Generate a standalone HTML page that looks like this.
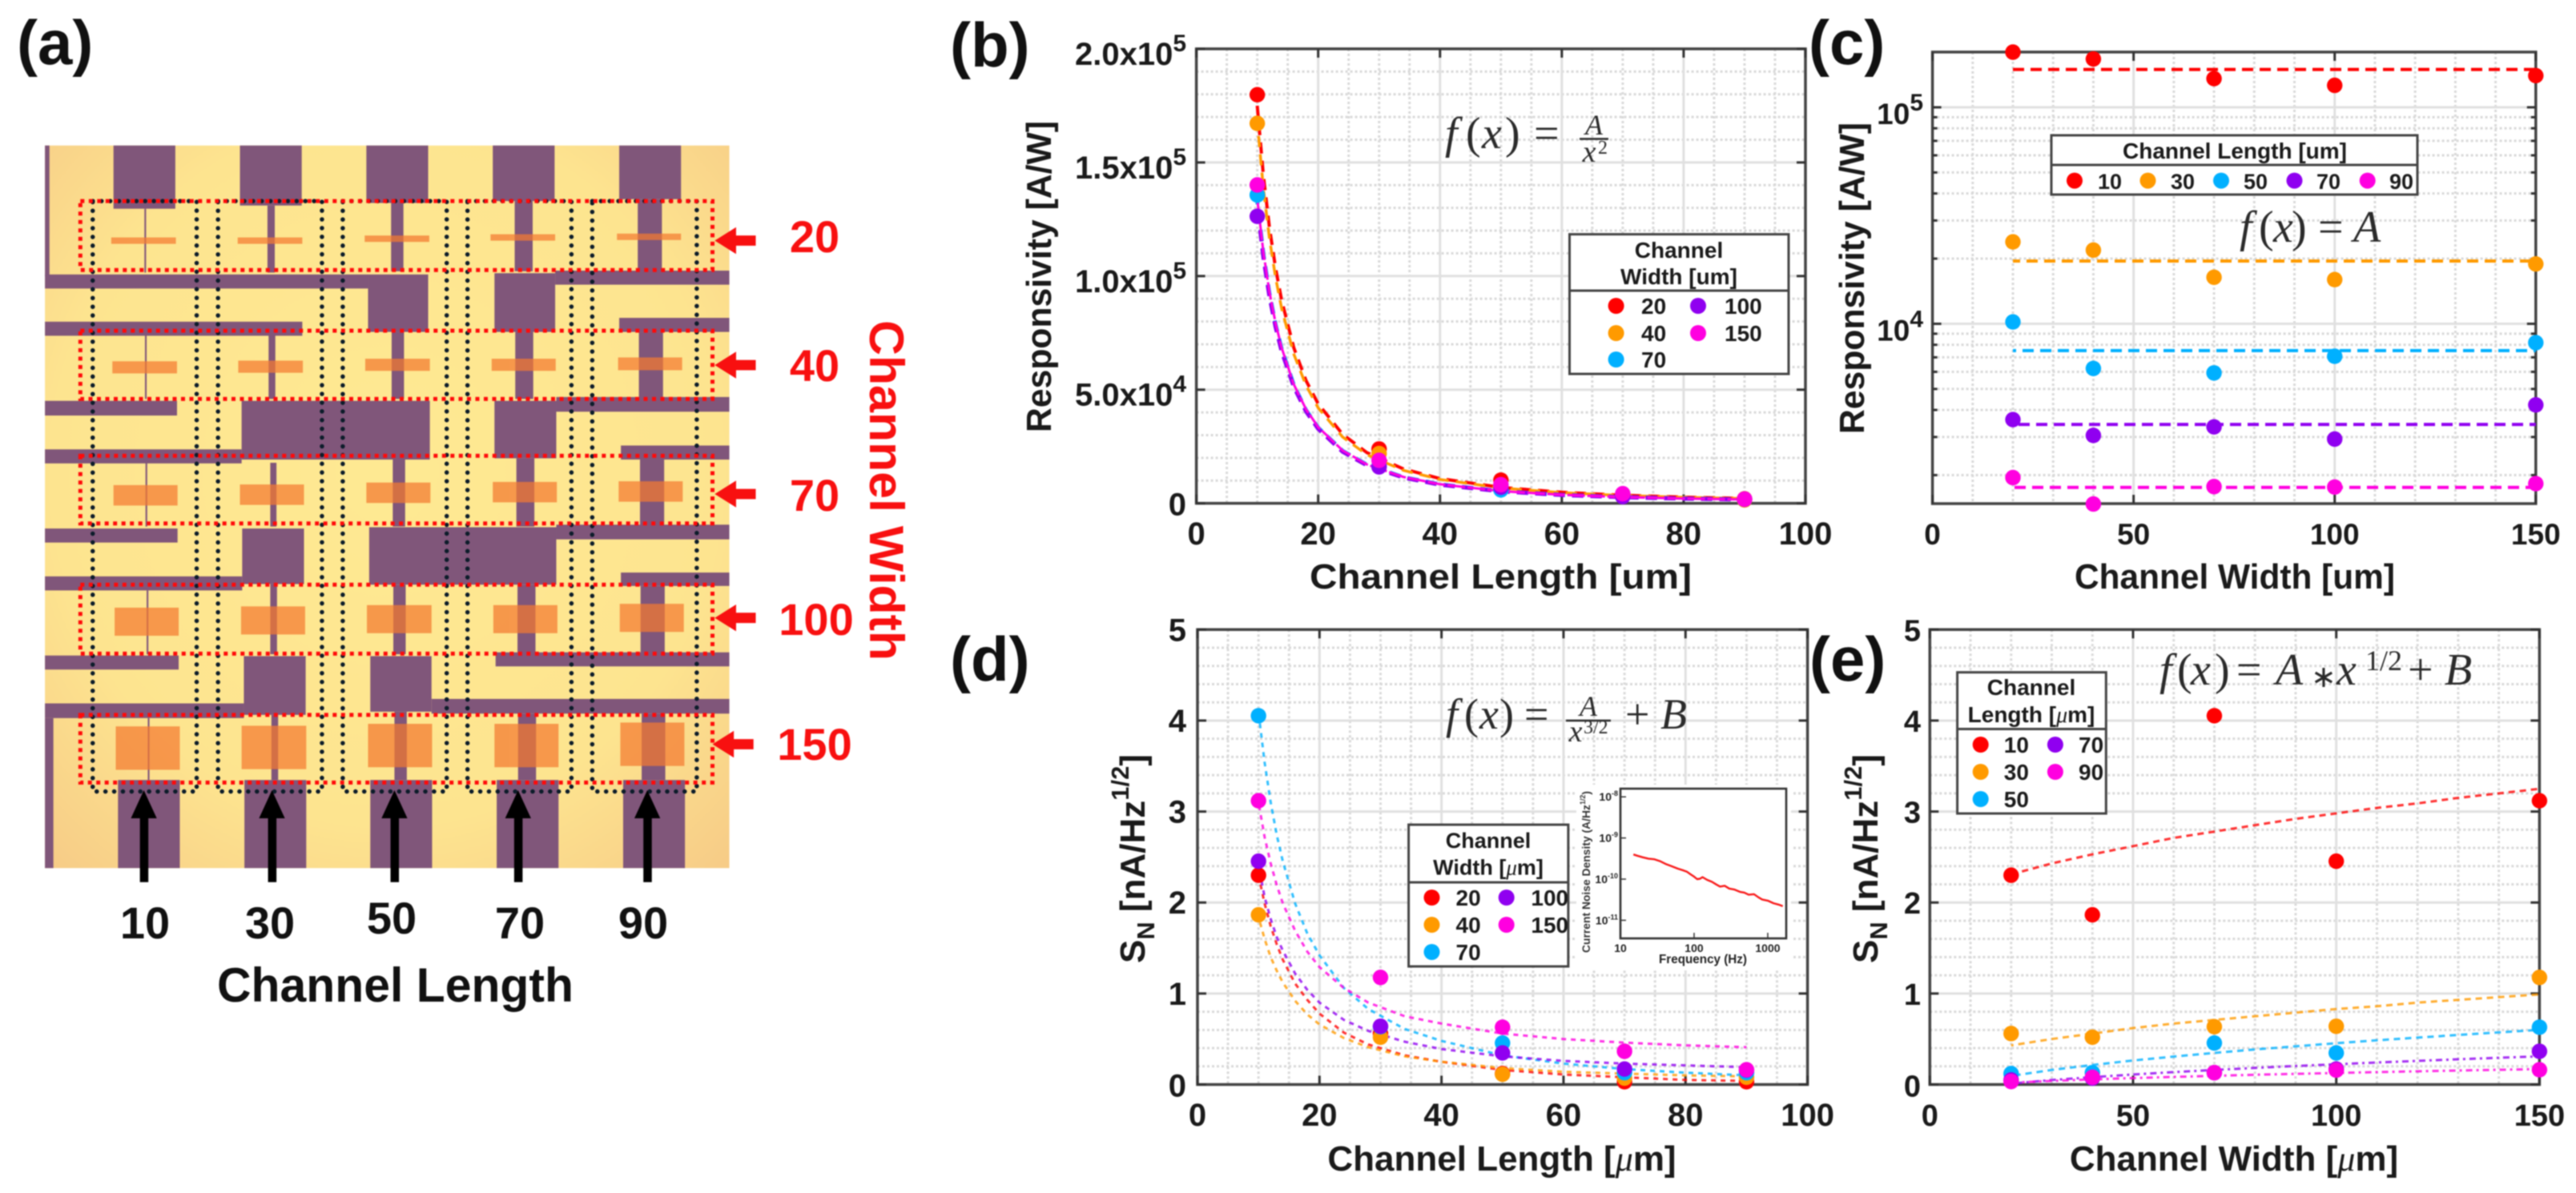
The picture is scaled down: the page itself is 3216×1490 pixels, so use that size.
<!DOCTYPE html>
<html lang="en">
<head>
<meta charset="utf-8">
<title>Responsivity and noise versus channel geometry</title>
<style>
html,body{margin:0;padding:0;background:#fff;}
#figure{display:block;width:3216px;height:1490px;filter:blur(0.9px);font-family:"Liberation Sans",sans-serif;}
.bold{font-weight:700;}
.eq{font-family:"Liberation Serif",serif;font-style:italic;fill:#2a2a2a;}
.eqr{font-family:"Liberation Serif",serif;font-style:normal;fill:#2a2a2a;}
.lg{font-family:"Liberation Sans",sans-serif;font-weight:700;fill:#1a1a1a;}
.mu{font-family:"Liberation Serif",serif;font-style:italic;font-weight:400;}
.dotr{fill:none;stroke:#ff0a0a;stroke-width:5;stroke-dasharray:5 5.5;vector-effect:non-scaling-stroke;}
.dotk{fill:none;stroke:#0c1c2a;stroke-width:5.5;stroke-linecap:round;stroke-dasharray:0.1 10.8;vector-effect:non-scaling-stroke;}
</style>
</head>
<body>
<svg id="figure" xmlns="http://www.w3.org/2000/svg" width="3216" height="1490" viewBox="0 0 3216 1490">
<defs>
<radialGradient id="wafer" cx="50%" cy="45%" r="75%">
<stop offset="0" stop-color="#fee992"/><stop offset="0.65" stop-color="#fde48f"/><stop offset="1" stop-color="#f6ca86"/>
</radialGradient>
</defs>
<rect width="3216" height="1490" fill="#fff"/>

<!-- Panel (a) -->
<g id="panel-a">
<text class="bold" x="21" y="80" font-size="78" fill="#111">(a)</text>
<g transform="scale(0.7015,0.7972)">
<rect x="80" y="228" width="1218" height="1132" fill="url(#wafer)"/>
<g fill="#80567a">
<rect x="80" y="228" width="8" height="205"/><rect x="80" y="1125" width="15" height="235"/>
<rect x="202" y="228" width="110" height="99"/><rect x="427" y="228" width="110" height="94"/><rect x="652" y="228" width="110" height="90"/><rect x="877" y="228" width="110" height="87"/><rect x="1102" y="228" width="110" height="84"/>
<rect x="257" y="327" width="3" height="100"/><rect x="476" y="322" width="13" height="105"/><rect x="696" y="318" width="22" height="107"/><rect x="916" y="315" width="32" height="110"/><rect x="1135" y="312" width="43" height="113"/>
<rect x="258" y="525" width="3" height="100"/><rect x="478" y="525" width="12" height="100"/><rect x="697" y="520" width="22" height="105"/><rect x="917" y="520" width="32" height="105"/><rect x="1137" y="520" width="43" height="105"/>
<rect x="259" y="725" width="3" height="100"/><rect x="481" y="725" width="11" height="100"/><rect x="699" y="720" width="22" height="105"/><rect x="919" y="718" width="32" height="107"/><rect x="1139" y="720" width="43" height="105"/>
<rect x="261" y="925" width="3" height="100"/><rect x="481" y="915" width="12" height="110"/><rect x="700" y="916" width="22" height="109"/><rect x="921" y="916" width="32" height="109"/><rect x="1140" y="918" width="43" height="107"/>
<rect x="263" y="1125" width="3" height="97"/><rect x="483" y="1120" width="12" height="102"/><rect x="702" y="1115" width="22" height="107"/><rect x="922" y="1118" width="32" height="104"/><rect x="1142" y="1118" width="42" height="104"/>
<rect x="210" y="1222" width="110" height="138"/><rect x="435" y="1222" width="110" height="138"/><rect x="659" y="1222" width="110" height="138"/><rect x="884" y="1222" width="110" height="138"/><rect x="1109" y="1222" width="110" height="138"/>
<rect x="80" y="430" width="575" height="22"/><rect x="655" y="430" width="107" height="90"/><rect x="880" y="428" width="108" height="92"/><rect x="988" y="424" width="310" height="22"/>
<rect x="80" y="504" width="458" height="22"/><rect x="1102" y="498" width="196" height="22"/>
<rect x="80" y="628" width="235" height="23"/><rect x="430" y="628" width="335" height="92"/><rect x="80" y="704" width="350" height="22"/><rect x="880" y="628" width="110" height="90"/><rect x="990" y="622" width="308" height="23"/><rect x="1105" y="698" width="193" height="22"/>
<rect x="80" y="828" width="236" height="22"/><rect x="431" y="828" width="110" height="87"/><rect x="80" y="903" width="351" height="22"/><rect x="657" y="826" width="333" height="90"/><rect x="990" y="822" width="308" height="23"/><rect x="1105" y="897" width="193" height="21"/>
<rect x="80" y="1027" width="238" height="22"/><rect x="434" y="1028" width="110" height="92"/><rect x="80" y="1102" width="354" height="23"/><rect x="659" y="1028" width="109" height="87"/><rect x="768" y="1095" width="530" height="23"/><rect x="882" y="1022" width="416" height="22"/>
</g>
<g fill="#f47a30" opacity="0.72">
<rect x="198" y="372" width="115" height="10"/><rect x="423" y="372" width="115" height="10"/><rect x="649" y="369" width="115" height="10"/><rect x="873" y="367" width="115" height="10"/><rect x="1098" y="366" width="114" height="10"/>
<rect x="200" y="566" width="115" height="19"/><rect x="424" y="565" width="115" height="19"/><rect x="650" y="562" width="115" height="19"/><rect x="875" y="562" width="114" height="19"/><rect x="1100" y="560" width="114" height="20"/>
<rect x="202" y="760" width="114" height="32"/><rect x="427" y="759" width="114" height="32"/><rect x="652" y="756" width="114" height="32"/><rect x="877" y="755" width="114" height="32"/><rect x="1101" y="754" width="114" height="32"/>
<rect x="204" y="952" width="114" height="44"/><rect x="429" y="950" width="114" height="44"/><rect x="653" y="948" width="115" height="44"/><rect x="878" y="948" width="114" height="44"/><rect x="1103" y="946" width="114" height="44"/>
<rect x="206" y="1138" width="114" height="68"/><rect x="430" y="1137" width="115" height="68"/><rect x="655" y="1134" width="114" height="68"/><rect x="880" y="1134" width="114" height="68"/><rect x="1104" y="1132" width="114" height="68"/>
</g>
<g>
<rect class="dotk" x="165" y="315" width="185" height="925"/><rect class="dotk" x="388" y="315" width="185" height="925"/><rect class="dotk" x="610" y="315" width="185" height="925"/><rect class="dotk" x="832" y="315" width="185" height="925"/><rect class="dotk" x="1054" y="315" width="186" height="925"/>
</g>
<g>
<rect class="dotr" x="143" y="315" width="1125" height="108"/><rect class="dotr" x="143" y="518" width="1125" height="107"/><rect class="dotr" x="143" y="714" width="1125" height="106"/><rect class="dotr" x="143" y="916" width="1125" height="108"/><rect class="dotr" x="143" y="1120" width="1125" height="106"/>
</g>
<g fill="#000">
<polygon points="256,1238 279,1282 264,1282 264,1382 249,1382 249,1282 233,1282"/>
<polygon points="484,1238 507,1282 492,1282 492,1382 477,1382 477,1282 461,1282"/>
<polygon points="702,1238 725,1282 710,1282 710,1382 695,1382 695,1282 679,1282"/>
<polygon points="922,1238 945,1282 930,1282 930,1382 915,1382 915,1282 899,1282"/>
<polygon points="1152,1238 1175,1282 1160,1282 1160,1382 1145,1382 1145,1282 1129,1282"/>
</g>
<g fill="#f81010">
<polygon points="1272,377 1310,356 1310,369 1345,369 1345,385 1310,385 1310,398"/>
<polygon points="1272,572 1310,551 1310,564 1345,564 1345,580 1310,580 1310,593"/>
<polygon points="1272,774 1310,753 1310,766 1345,766 1345,782 1310,782 1310,795"/>
<polygon points="1272,968 1310,947 1310,960 1345,960 1345,976 1310,976 1310,989"/>
<polygon points="1268,1166 1306,1145 1306,1158 1341,1158 1341,1174 1306,1174 1306,1187"/>
</g>
</g>
<g class="bold" font-size="56" fill="#f81010" text-anchor="middle">
<text x="1017" y="315">20</text>
<text x="1017" y="476">40</text>
<text x="1017" y="638">70</text>
<text x="1019" y="793">100</text>
<text x="1017" y="949">150</text>
</g>
<text class="bold" transform="translate(1086,400) rotate(90)" font-size="60" fill="#f81010" textLength="425" lengthAdjust="spacingAndGlyphs">Channel Width</text>
<g class="bold" font-size="56" fill="#111" text-anchor="middle">
<text x="181" y="1172">10</text>
<text x="337" y="1172">30</text>
<text x="489" y="1166">50</text>
<text x="649" y="1172">70</text>
<text x="803" y="1172">90</text>
</g>
<text class="bold" x="271" y="1251" font-size="60" fill="#111" textLength="445" lengthAdjust="spacingAndGlyphs">Channel Length</text>
</g>

<!-- Plot layers filled by script -->
<g id="panel-b"></g>
<g id="panel-c"></g>
<g id="panel-d"></g>
<g id="panel-e"></g>

<!-- Panel labels and axis titles -->
<g class="bold" font-size="78" fill="#111">
<text x="1186" y="83">(b)</text>
<text x="2258" y="80">(c)</text>
<text x="1186" y="850">(d)</text>
<text x="2259" y="850">(e)</text>
</g>
<g class="bold" fill="#1a1a1a" font-size="44">
<text x="1873.5" y="735" text-anchor="middle" textLength="477" lengthAdjust="spacingAndGlyphs">Channel Length [um]</text>
<text transform="translate(1312,540) rotate(-90)" textLength="389" lengthAdjust="spacingAndGlyphs">Responsivity [A/W]</text>
<text x="2790" y="735" text-anchor="middle" textLength="400" lengthAdjust="spacingAndGlyphs">Channel Width [um]</text>
<text transform="translate(2327,542) rotate(-90)" textLength="389" lengthAdjust="spacingAndGlyphs">Responsivity [A/W]</text>
<text x="1875" y="1462" text-anchor="middle">Channel Length [<tspan class="mu">μ</tspan>m]</text>
<text x="2789" y="1462" text-anchor="middle">Channel Width [<tspan class="mu">μ</tspan>m]</text>
<text transform="translate(1429,1203) rotate(-90)" font-size="44">S<tspan font-size="31" dy="12">N</tspan><tspan dy="-12"> [nA/Hz</tspan><tspan font-size="31" dy="-20">1/2</tspan><tspan dy="20">]</tspan></text>
<text transform="translate(2344,1203) rotate(-90)" font-size="44">S<tspan font-size="31" dy="12">N</tspan><tspan dy="-12"> [nA/Hz</tspan><tspan font-size="31" dy="-20">1/2</tspan><tspan dy="20">]</tspan></text>
</g>

<!-- Equations -->
<g>
<text class="eq" y="185" font-size="56"><tspan x="1804">f</tspan><tspan class="eqr" x="1830">(</tspan><tspan x="1850">x</tspan><tspan class="eqr" x="1879">)</tspan><tspan class="eqr" x="1915">=</tspan></text>
<text class="eq" x="1990" y="168" font-size="36" text-anchor="middle">A</text>
<line x1="1972" x2="2008" y1="173.5" y2="173.5" stroke="#2a2a2a" stroke-width="2.5"/>
<text class="eq" x="1984" y="202" font-size="38" text-anchor="middle">x</text>
<text class="eqr" x="1995" y="192" font-size="24">2</text>
</g>
<g>
<text class="eq" y="302" font-size="56"><tspan x="2796">f</tspan><tspan class="eqr" x="2820">(</tspan><tspan x="2838">x</tspan><tspan class="eqr" x="2861">)</tspan><tspan class="eqr" x="2894">=</tspan><tspan x="2938">A</tspan></text>
</g>
<g>
<text class="eq" y="910" font-size="54"><tspan x="1805">f</tspan><tspan class="eqr" x="1828">(</tspan><tspan x="1847">x</tspan><tspan class="eqr" x="1872">)</tspan><tspan class="eqr" x="1903">=</tspan></text>
<text class="eq" x="1983" y="894" font-size="36" text-anchor="middle">A</text>
<line x1="1955" x2="2011" y1="900" y2="900" stroke="#2a2a2a" stroke-width="2.5"/>
<text class="eq" x="1967" y="926" font-size="38" text-anchor="middle">x</text>
<text class="eqr" x="1977" y="916" font-size="24">3/2</text>
<text class="eq" y="910" font-size="54"><tspan class="eqr" x="2029">+</tspan><tspan x="2073">B</tspan></text>
</g>
<g>
<text class="eq" y="855" font-size="56"><tspan x="2696">f</tspan><tspan class="eqr" x="2718">(</tspan><tspan x="2735">x</tspan><tspan class="eqr" x="2765">)</tspan><tspan class="eqr" x="2792">=</tspan><tspan x="2841">A</tspan></text>
<text class="eqr" x="2885" y="858" font-size="38">∗</text>
<text class="eq" x="2917" y="855" font-size="56">x</text>
<text class="eqr" x="2953" y="837" font-size="36">1/2</text>
<text class="eq" y="855" font-size="56"><tspan class="eqr" x="3006">+</tspan><tspan x="3052">B</tspan></text>
</g>

<!-- Legends -->
<g>
<rect x="1959.5" y="292.6" width="273.5" height="174.4" fill="#fff" stroke="#444" stroke-width="3"/>
<line x1="1959.5" x2="2233" y1="363" y2="363" stroke="#444" stroke-width="3"/>
<text class="lg" x="2096" y="322" font-size="28" text-anchor="middle">Channel</text>
<text class="lg" x="2096" y="355" font-size="28" text-anchor="middle">Width [um]</text>
<circle cx="2017.6" cy="382" r="10" fill="#ff0000"/><text class="lg" x="2049" y="392" font-size="28">20</text>
<circle cx="2017.6" cy="416" r="10" fill="#ff9a00"/><text class="lg" x="2049" y="426" font-size="28">40</text>
<circle cx="2017.6" cy="449" r="10" fill="#00b0ff"/><text class="lg" x="2049" y="459" font-size="28">70</text>
<circle cx="2120" cy="382" r="10" fill="#9000f0"/><text class="lg" x="2153" y="392" font-size="28">100</text>
<circle cx="2120" cy="416" r="10" fill="#ff00e0"/><text class="lg" x="2153" y="426" font-size="28">150</text>
</g>
<g>
<rect x="2561" y="169" width="457" height="74" fill="#fff" stroke="#444" stroke-width="3"/>
<line x1="2561" x2="3018" y1="206" y2="206" stroke="#444" stroke-width="3"/>
<text class="lg" x="2790" y="198" font-size="28" text-anchor="middle">Channel Length [um]</text>
<circle cx="2590" cy="225.6" r="10" fill="#ff0000"/><text class="lg" x="2619" y="236" font-size="27">10</text>
<circle cx="2681.5" cy="225.6" r="10" fill="#ff9a00"/><text class="lg" x="2710" y="236" font-size="27">30</text>
<circle cx="2773" cy="225.6" r="10" fill="#00b0ff"/><text class="lg" x="2801" y="236" font-size="27">50</text>
<circle cx="2864.5" cy="225.6" r="10" fill="#9000f0"/><text class="lg" x="2892" y="236" font-size="27">70</text>
<circle cx="2955.7" cy="225.6" r="10" fill="#ff00e0"/><text class="lg" x="2983" y="236" font-size="27">90</text>
</g>
<g>
<rect x="1758.6" y="1030" width="199.3" height="177" fill="#fff" stroke="#444" stroke-width="3"/>
<line x1="1758.6" x2="1957.9" y1="1102" y2="1102" stroke="#444" stroke-width="3"/>
<text class="lg" x="1858" y="1059" font-size="27" text-anchor="middle">Channel</text>
<text class="lg" x="1858" y="1092.7" font-size="27" text-anchor="middle">Width [<tspan class="mu">μ</tspan>m]</text>
<circle cx="1787.5" cy="1121" r="10" fill="#ff0000"/><text class="lg" x="1817.5" y="1131" font-size="28">20</text>
<circle cx="1787.5" cy="1155" r="10" fill="#ff9a00"/><text class="lg" x="1817.5" y="1165" font-size="28">40</text>
<circle cx="1787.5" cy="1189" r="10" fill="#00b0ff"/><text class="lg" x="1817.5" y="1199" font-size="28">70</text>
<circle cx="1880.7" cy="1121" r="10" fill="#9000f0"/><text class="lg" x="1911.4" y="1131" font-size="28">100</text>
<circle cx="1880.7" cy="1155" r="10" fill="#ff00e0"/><text class="lg" x="1911.4" y="1165" font-size="28">150</text>
</g>
<g>
<rect x="2443.6" y="839.7" width="185.7" height="176.3" fill="#fff" stroke="#444" stroke-width="3"/>
<line x1="2443.6" x2="2629.3" y1="910.5" y2="910.5" stroke="#444" stroke-width="3"/>
<text class="lg" x="2536" y="868" font-size="28" text-anchor="middle">Channel</text>
<text class="lg" x="2536" y="902" font-size="28" text-anchor="middle">Length [<tspan class="mu">μ</tspan>m]</text>
<circle cx="2472.7" cy="930" r="10" fill="#ff0000"/><text class="lg" x="2501.8" y="940" font-size="28">10</text>
<circle cx="2472.7" cy="964" r="10" fill="#ff9a00"/><text class="lg" x="2501.8" y="974" font-size="28">30</text>
<circle cx="2472.7" cy="998" r="10" fill="#00b0ff"/><text class="lg" x="2501.8" y="1008" font-size="28">50</text>
<circle cx="2565.9" cy="930" r="10" fill="#9000f0"/><text class="lg" x="2595" y="940" font-size="28">70</text>
<circle cx="2565.9" cy="964" r="10" fill="#ff00e0"/><text class="lg" x="2595" y="974" font-size="28">90</text>
</g>

<!-- Inset -->
<g>
<rect x="1968" y="980" width="268" height="232" fill="#fff"/>
<g id="inset-layer"></g>
<text class="bold" x="2126" y="1203" font-size="16" text-anchor="middle" fill="#222" textLength="110" lengthAdjust="spacingAndGlyphs">Frequency (Hz)</text>
<text class="bold" transform="translate(1985,1190) rotate(-90)" font-size="14" fill="#333" textLength="202" lengthAdjust="spacingAndGlyphs">Current Noise Density (A/Hz<tspan font-size="9" dy="-6">1/2</tspan><tspan dy="6">)</tspan></text>
</g>
</svg>

<script>
// ---- Panel (b) data: responsivity vs channel length ----
const lengthCategories = [10, 30, 50, 70, 90];
const respWidth20 = [179800, 23900, 10200, 3610, 1948];
const respWidth40 = [167200, 21900, 6220, 3050, 1471];
const respWidth70 = [135700, 16400, 5930, 3340, 1770];
const respWidth100 = [126300, 16000, 7080, 2935, 1762];
const respWidth150 = [140100, 18900, 8180, 4220, 1827];
const fitBX = [10, 11, 12, 13, 14, 16, 18, 20, 24, 28, 34, 40, 50, 60, 70, 80, 90];
const fitBWidth20 = [175000, 144600, 121500, 103500, 89300, 68400, 54000, 43750, 30400, 22300, 15100, 10900, 7000, 4860, 3570, 2730, 2160];
const fitBWidth40 = [168000, 138800, 116700, 99400, 85700, 65600, 51900, 42000, 29200, 21400, 14500, 10500, 6720, 4670, 3430, 2630, 2070];
const fitBWidth70 = [133000, 109900, 92400, 78700, 67900, 52000, 41000, 33250, 23100, 17000, 11500, 8300, 5320, 3690, 2710, 2080, 1640];
const fitBWidth100 = [131000, 108300, 91000, 77500, 66800, 51200, 40400, 32750, 22700, 16700, 11300, 8190, 5240, 3640, 2670, 2050, 1620];
const fitBWidth150 = [134000, 110700, 93100, 79300, 68400, 52300, 41400, 33500, 23300, 17100, 11600, 8380, 5360, 3720, 2730, 2090, 1650];
const bXTicks = [0, 20, 40, 60, 80, 100];
const bYTicks = [0, 50000, 100000, 150000, 200000];
const bYTickLabels = ["0", "5.0x10", "1.0x10", "1.5x10", "2.0x10"];
const bYTickExponents = ["", "4", "5", "5", "5"];

// ---- Panel (c) data: responsivity vs channel width ----
const widthCategories = [20, 40, 70, 100, 150];
const respLength10 = [179800, 167200, 135700, 126300, 140100];
const respLength30 = [23900, 21900, 16400, 16000, 18900];
const respLength50 = [10200, 6220, 5930, 7080, 8180];
const respLength70 = [3610, 3050, 3340, 2935, 4220];
const respLength90 = [1948, 1471, 1770, 1762, 1827];
const fitCX = [20, 150];
const fitCLength10 = [149500, 149500];
const fitCLength30 = [19500, 19500];
const fitCLength50 = [7520, 7520];
const fitCLength70 = [3430, 3430];
const fitCLength90 = [1755, 1755];
const cXTicks = [0, 50, 100, 150];
const cYTicks = [10000, 100000];
const cYTickLabels = ["10", "10"];
const cYTickExponents = ["4", "5"];
const cYMinorTicks = [2000, 3000, 4000, 5000, 6000, 7000, 8000, 9000, 20000, 30000, 40000, 50000, 60000, 70000, 80000, 90000];

// ---- Panel (d) data: noise vs channel length ----
const noiseWidth20 = [2.30, 0.56, 0.12, 0.03, 0.03];
const noiseWidth40 = [1.865, 0.52, 0.113, 0.07, 0.08];
const noiseWidth70 = [4.053, 0.635, 0.456, 0.13, 0.13];
const noiseWidth100 = [2.454, 0.64, 0.347, 0.17, 0.158];
const noiseWidth150 = [3.119, 1.177, 0.63, 0.365, 0.162];
const fitDX = [10, 11, 12, 13, 14, 16, 18, 20, 24, 28, 34, 40, 50, 60, 70, 80, 90];
const fitDWidth20 = [2.30, 1.99, 1.74, 1.54, 1.37, 1.11, 0.93, 0.78, 0.57, 0.44, 0.32, 0.25, 0.16, 0.11, 0.08, 0.05, 0.04];
const fitDWidth40 = [1.84, 1.60, 1.40, 1.25, 1.12, 0.92, 0.77, 0.66, 0.51, 0.41, 0.31, 0.25, 0.18, 0.14, 0.12, 0.10, 0.09];
const fitDWidth70 = [4.09, 3.54, 3.10, 2.74, 2.45, 1.99, 1.66, 1.42, 1.06, 0.83, 0.61, 0.48, 0.32, 0.23, 0.17, 0.13, 0.10];
const fitDWidth100 = [2.42, 2.06, 1.82, 1.62, 1.47, 1.22, 1.04, 0.90, 0.71, 0.59, 0.47, 0.39, 0.31, 0.26, 0.23, 0.21, 0.19];
const fitDWidth150 = [3.10, 2.72, 2.43, 2.19, 1.99, 1.69, 1.46, 1.29, 1.06, 0.90, 0.75, 0.67, 0.56, 0.50, 0.46, 0.43, 0.41];
const dXTicks = [0, 20, 40, 60, 80, 100];
const dYTicks = [0, 1, 2, 3, 4, 5];
const dYTickLabels = ["0", "1", "2", "3", "4", "5"];

// ---- Panel (e) data: noise vs channel width ----
const noiseLength10 = [2.30, 1.865, 4.053, 2.454, 3.119];
const noiseLength30 = [0.56, 0.52, 0.635, 0.64, 1.177];
const noiseLength50 = [0.12, 0.13, 0.456, 0.347, 0.63];
const noiseLength70 = [0.05, 0.07, 0.13, 0.17, 0.365];
const noiseLength90 = [0.033, 0.08, 0.13, 0.158, 0.162];
const fitEX = [20, 30, 40, 50, 60, 70, 80, 90, 100, 110, 120, 130, 140, 150];
const fitELength10 = [2.31, 2.43, 2.53, 2.62, 2.71, 2.78, 2.85, 2.92, 2.98, 3.04, 3.09, 3.15, 3.20, 3.25];
const fitELength30 = [0.43, 0.50, 0.56, 0.62, 0.67, 0.71, 0.75, 0.79, 0.83, 0.86, 0.90, 0.93, 0.96, 0.99];
const fitELength50 = [0.095, 0.16, 0.215, 0.264, 0.307, 0.348, 0.385, 0.42, 0.454, 0.486, 0.516, 0.545, 0.573, 0.60];
const fitELength70 = [0.01, 0.049, 0.081, 0.11, 0.136, 0.16, 0.182, 0.203, 0.223, 0.242, 0.26, 0.277, 0.294, 0.31];
const fitELength90 = [0.02, 0.04, 0.056, 0.07, 0.084, 0.095, 0.107, 0.117, 0.127, 0.136, 0.145, 0.154, 0.162, 0.17];
const eXTicks = [0, 50, 100, 150];

// ---- Inset data: current noise spectrum ----
const insetFrequency = [15, 17, 20, 24, 29, 35, 42, 50, 60, 72, 80, 90, 100, 110, 120, 130, 150, 175, 200, 225, 260, 300, 350, 420, 480, 550, 650, 750, 840, 1000, 1200, 1400, 1600];
const insetNoise = [3.98e-10, 3.7e-10, 3.4e-10, 3.15e-10, 3.04e-10, 2.7e-10, 2.3e-10, 2.05e-10, 1.8e-10, 1.62e-10, 1.51e-10, 1.3e-10, 1.15e-10, 1.0e-10, 1.02e-10, 1.12e-10, 9.6e-11, 8.6e-11, 7.4e-11, 6.6e-11, 6.9e-11, 5.9e-11, 5.6e-11, 4.9e-11, 4.7e-11, 4.2e-11, 4.3e-11, 3.6e-11, 3.2e-11, 3.0e-11, 2.6e-11, 2.4e-11, 2.2e-11];
const insetXTicks = [10, 100, 1000];
const insetXTickLabels = ["10", "100", "1000"];
const insetYTicks = [1e-8, 1e-9, 1e-10, 1e-11];
const insetYTickExponents = ["-8", "-9", "-10", "-11"];

const SVGNS = 'http://www.w3.org/2000/svg';
const RED = '#ff0000', ORANGE = '#ff9a00', BLUE = '#00b0ff', PURPLE = '#9000f0', MAGENTA = '#ff00e0';

function linearAxis(d0, d1, r0, r1) { return function (v) { return r0 + (v - d0) * (r1 - r0) / (d1 - d0); }; }
function logAxis(d0, d1, r0, r1) { return function (v) { return r0 + (Math.log10(v) - Math.log10(d0)) * (r1 - r0) / (Math.log10(d1) - Math.log10(d0)); }; }

function make(parent, tag, attrs, text) {
  const node = document.createElementNS(SVGNS, tag);
  for (const k in attrs) node.setAttribute(k, attrs[k]);
  if (text !== undefined) node.textContent = text;
  parent.appendChild(node);
  return node;
}
function gridLine(parent, x1, y1, x2, y2, major) {
  const attrs = major
    ? { stroke: '#e0e0e0', 'stroke-width': 3 }
    : { stroke: '#d9d9d9', 'stroke-width': 3, 'stroke-dasharray': '3 3' };
  attrs.x1 = x1; attrs.y1 = y1; attrs.x2 = x2; attrs.y2 = y2;
  const line = make(parent, 'line', attrs);
  
  
}
function tickMark(parent, x1, y1, x2, y2) {
  const mark = make(parent, 'line', { x1: x1, y1: y1, x2: x2, y2: y2, stroke: '#333', 'stroke-width': 3 });
  
  
}

function drawPanel(cfg) {
  const root = document.getElementById(cfg.id);
  const L = cfg.left, R = cfg.right, T = cfg.top, B = cfg.bottom;
  const sx = linearAxis(cfg.xDomain[0], cfg.xDomain[1], L, R);
  const sy = cfg.yLog ? logAxis(cfg.yDomain[0], cfg.yDomain[1], B, T) : linearAxis(cfg.yDomain[0], cfg.yDomain[1], B, T);
  const grid = make(root, 'g', {});
  
  

  for (let v = cfg.xDomain[0] + cfg.xMinorStep; v < cfg.xDomain[1]; v += cfg.xMinorStep) {
    if (cfg.xTicks.indexOf(v) < 0) gridLine(grid, sx(v), T, sx(v), B, false);
  }
  cfg.yMinor.forEach(function (v) {
    if (cfg.yTicks.indexOf(v) < 0) gridLine(grid, L, sy(v), R, sy(v), false);
  });
  cfg.xTicks.forEach(function (v) { gridLine(grid, sx(v), T, sx(v), B, true); });
  cfg.yTicks.forEach(function (v) { gridLine(grid, L, sy(v), R, sy(v), true); });

  const frame = make(root, 'rect', { x: L, y: T, width: R - L, height: B - T, fill: 'none', stroke: '#444', 'stroke-width': 3.5 });
  
  

  cfg.xTicks.forEach(function (v) {
    tickMark(root, sx(v), B, sx(v), B - 11);
    tickMark(root, sx(v), T, sx(v), T + 11);
    const label = make(root, 'text', { x: sx(v), y: cfg.xLabelY, 'text-anchor': 'middle', 'font-size': cfg.tickFont, 'font-weight': 700, fill: '#1a1a1a' }, String(v));
    
    
  });
  cfg.yTicks.forEach(function (v, i) {
    tickMark(root, L, sy(v), L + 11, sy(v));
    tickMark(root, R, sy(v), R - 11, sy(v));
    const off = (v === 0) ? cfg.yZeroOffset : cfg.yLabelOffset;
    const label = make(root, 'text', { x: cfg.yLabelX, y: sy(v) + off, 'text-anchor': 'end', 'font-size': cfg.yTickFont, 'font-weight': 700, fill: '#1a1a1a' });
    
    
    make(label, 'tspan', {}, cfg.yLabels[i]);
    if (cfg.yExponents && cfg.yExponents[i]) make(label, 'tspan', { 'font-size': 30, dy: -17 }, cfg.yExponents[i]);
  });
  if (cfg.yLog) {
    cfg.yMinor.forEach(function (v) {
      tickMark(root, L, sy(v), L + 6, sy(v));
      tickMark(root, R, sy(v), R - 6, sy(v));
    });
  }

  cfg.series.forEach(function (s, i) {
    const pts = s.fitY.map(function (v, k) { return sx(s.fitX[k]).toFixed(1) + ',' + sy(v).toFixed(1); }).join(' ');
    const fit = make(root, 'polyline', {
      points: pts, fill: 'none', stroke: s.color, 'stroke-width': s.width || cfg.fitWidth,
      'stroke-dasharray': s.dash || cfg.fitDash, 'stroke-dashoffset': i * 5, opacity: cfg.fitOpacity,
      'stroke-linejoin': 'round'
    });
    
    
  });
  cfg.series.forEach(function (s) {
    s.y.forEach(function (v, k) {
      const dot = make(root, 'circle', { cx: sx(s.x[k]), cy: sy(v), r: 9.7, fill: s.color });
      
      
    });
  });
}

function minorValues(start, stop, step) {
  const out = [];
  for (let i = 1; start + i * step < stop - 1e-9; i++) out.push(Math.round((start + i * step) * 1000) / 1000);
  return out;
}

drawPanel({
  id: 'panel-b', left: 1493.6, right: 2254, top: 61, bottom: 628.6,
  xDomain: [0, 100], yDomain: [0, 200000], yLog: false,
  xTicks: bXTicks, xMinorStep: 5, yTicks: bYTicks, yMinor: minorValues(0, 200000, 10000),
  yLabels: bYTickLabels, yExponents: bYTickExponents,
  xLabelY: 680, yLabelX: 1481, yLabelOffset: 20, yZeroOffset: 15, tickFont: 40, yTickFont: 40,
  fitWidth: 4, fitDash: '14 9', fitOpacity: 1,
  series: [
    { color: RED, x: lengthCategories, y: respWidth20, fitX: fitBX, fitY: fitBWidth20 },
    { color: ORANGE, x: lengthCategories, y: respWidth40, fitX: fitBX, fitY: fitBWidth40, width: 3.5 },
    { color: BLUE, x: lengthCategories, y: respWidth70, fitX: fitBX, fitY: fitBWidth70, width: 5 },
    { color: PURPLE, x: lengthCategories, y: respWidth100, fitX: fitBX, fitY: fitBWidth100, width: 5 },
    { color: MAGENTA, x: lengthCategories, y: respWidth150, fitX: fitBX, fitY: fitBWidth150, width: 3, dash: '22 3' }
  ]
});

drawPanel({
  id: 'panel-c', left: 2412.6, right: 3165.8, top: 65, bottom: 629,
  xDomain: [0, 150], yDomain: [1477, 180000], yLog: true,
  xTicks: cXTicks, xMinorStep: 10, yTicks: cYTicks, yMinor: cYMinorTicks,
  yLabels: cYTickLabels, yExponents: cYTickExponents,
  xLabelY: 680, yLabelX: 2401, yLabelOffset: 21, yZeroOffset: 21, tickFont: 37, yTickFont: 37,
  fitWidth: 4, fitDash: '14 8', fitOpacity: 1,
  series: [
    { color: RED, x: widthCategories, y: respLength10, fitX: fitCX, fitY: fitCLength10 },
    { color: ORANGE, x: widthCategories, y: respLength30, fitX: fitCX, fitY: fitCLength30 },
    { color: BLUE, x: widthCategories, y: respLength50, fitX: fitCX, fitY: fitCLength50 },
    { color: PURPLE, x: widthCategories, y: respLength70, fitX: fitCX, fitY: fitCLength70 },
    { color: MAGENTA, x: widthCategories, y: respLength90, fitX: fitCX, fitY: fitCLength90 }
  ]
});

drawPanel({
  id: 'panel-d', left: 1495, right: 2256.6, top: 786.3, bottom: 1354.5,
  xDomain: [0, 100], yDomain: [0, 5], yLog: false,
  xTicks: dXTicks, xMinorStep: 5, yTicks: dYTicks, yMinor: minorValues(0, 5, 0.2),
  yLabels: dYTickLabels,
  xLabelY: 1406, yLabelX: 1481, yLabelOffset: 14, yZeroOffset: 15, tickFont: 40, yTickFont: 40,
  fitWidth: 3, fitDash: '6 6', fitOpacity: 0.8,
  series: [
    { color: RED, x: lengthCategories, y: noiseWidth20, fitX: fitDX, fitY: fitDWidth20 },
    { color: ORANGE, x: lengthCategories, y: noiseWidth40, fitX: fitDX, fitY: fitDWidth40 },
    { color: BLUE, x: lengthCategories, y: noiseWidth70, fitX: fitDX, fitY: fitDWidth70 },
    { color: PURPLE, x: lengthCategories, y: noiseWidth100, fitX: fitDX, fitY: fitDWidth100 },
    { color: MAGENTA, x: lengthCategories, y: noiseWidth150, fitX: fitDX, fitY: fitDWidth150 }
  ]
});

drawPanel({
  id: 'panel-e', left: 2409.3, right: 3170.4, top: 786.3, bottom: 1354.5,
  xDomain: [0, 150], yDomain: [0, 5], yLog: false,
  xTicks: eXTicks, xMinorStep: 10, yTicks: dYTicks, yMinor: minorValues(0, 5, 0.2),
  yLabels: dYTickLabels,
  xLabelY: 1406, yLabelX: 2398, yLabelOffset: 14, yZeroOffset: 15, tickFont: 38, yTickFont: 38,
  fitWidth: 3, fitDash: '8 6', fitOpacity: 0.8,
  series: [
    { color: RED, x: widthCategories, y: noiseLength10, fitX: fitEX, fitY: fitELength10 },
    { color: ORANGE, x: widthCategories, y: noiseLength30, fitX: fitEX, fitY: fitELength30 },
    { color: BLUE, x: widthCategories, y: noiseLength50, fitX: fitEX, fitY: fitELength50 },
    { color: PURPLE, x: widthCategories, y: noiseLength70, fitX: fitEX, fitY: fitELength70, dash: '8 5 3 5' },
    { color: MAGENTA, x: widthCategories, y: noiseLength90, fitX: fitEX, fitY: fitELength90, dash: '8 5 3 5' }
  ]
});

(function drawInset() {
  const root = document.getElementById('inset-layer');
  const L = 2023, R = 2230, T = 985, B = 1172;
  const sx = logAxis(10, 1780, L, R);
  const sy = logAxis(3.63e-12, 1.58e-8, B, T);
  const frame = make(root, 'rect', { x: L, y: T, width: R - L, height: B - T, fill: '#fff', stroke: '#333', 'stroke-width': 2.6 });
  
  
  insetXTicks.forEach(function (v, i) {
    const m = make(root, 'line', { x1: sx(v), x2: sx(v), y1: B, y2: B - 7, stroke: '#333', 'stroke-width': 1.5 });
    
    
    const t = make(root, 'text', { x: sx(v), y: 1189, 'text-anchor': 'middle', 'font-size': 14, 'font-weight': 700, fill: '#222' }, insetXTickLabels[i]);
    
    
  });
  insetYTicks.forEach(function (v, i) {
    const m = make(root, 'line', { x1: L, x2: L + 7, y1: sy(v), y2: sy(v), stroke: '#333', 'stroke-width': 1.5 });
    
    
    const t = make(root, 'text', { x: L - 3, y: sy(v) + 5, 'text-anchor': 'end', 'font-size': 14, 'font-weight': 700, fill: '#222' });
    
    
    make(t, 'tspan', {}, '10');
    make(t, 'tspan', { 'font-size': 9, dy: -6 }, insetYTickExponents[i]);
  });
  const pts = insetNoise.map(function (v, k) { return sx(insetFrequency[k]).toFixed(1) + ',' + sy(v).toFixed(1); }).join(' ');
  const trace = make(root, 'polyline', { points: pts, fill: 'none', stroke: '#f81818', 'stroke-width': 2.4, 'stroke-linejoin': 'round' });
  
  
})();
</script>
</body>
</html>
